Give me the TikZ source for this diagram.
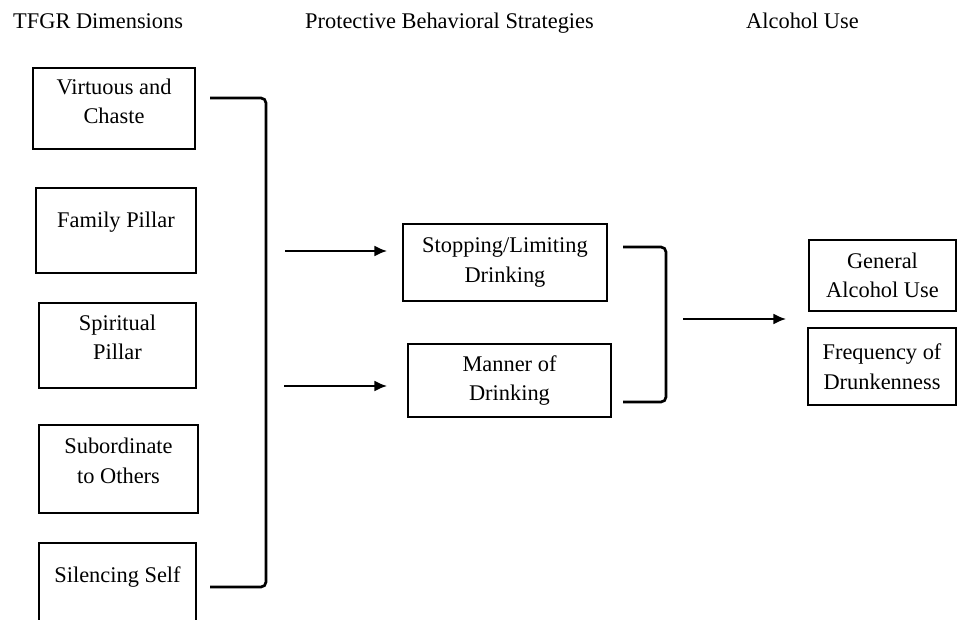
\documentclass[tikz,border=0pt]{standalone}
\usepackage{fontspec}
\setmainfont{Liberation Serif}
\usetikzlibrary{arrows.meta}
\tikzset{
  factor/.style={draw,line width=1.2pt,align=center,inner sep=0pt,
    font=\fontsize{22.4}{29.5}\selectfont},
  heading/.style={anchor=base west,inner sep=0pt,
    font=\fontsize{22.4}{29.5}\selectfont},
  bracket/.style={draw,line width=2.7pt,rounded corners=5pt},
  link/.style={draw,line width=2.7pt,-{Latex[length=13pt,width=11pt]}}
}

\begin{document}
\begin{tikzpicture}[x=1pt,y=-1pt]
  \useasboundingbox (0,0) rectangle (959,620);
  \clip (0,0) rectangle (959,620);
  % column headings
  \node[heading] (hd1) at (13,29) {TFGR Dimensions};
  \node[heading] (hd2) at (305,29) {Protective Behavioral Strategies};
  \node[heading] (hd3) at (746,29) {Alcohol Use};
  % TFGR dimensions
  \node[factor,minimum width=162pt,minimum height=81pt,text depth=15pt] (vc) at (114,108.5) {Virtuous and\\Chaste};
  \node[factor,minimum width=160pt,minimum height=85pt,text depth=22pt] (fp) at (116,230.5) {Family Pillar};
  \node[factor,minimum width=157pt,minimum height=85pt,text depth=17pt] (sp) at (117.5,345.5) {Spiritual\\Pillar};
  \node[factor,minimum width=159pt,minimum height=88pt,text depth=17pt] (so) at (118.5,469) {Subordinate\\to Others};
  \node[factor,minimum width=157pt,minimum height=85pt,text depth=22pt] (ss) at (117.5,585.5) {Silencing Self};
  % strategies
  \node[factor,minimum width=204pt,minimum height=77pt] (sl) at (505,262.5) {Stopping/Limiting\\Drinking};
  \node[factor,minimum width=203pt,minimum height=73pt] (md) at (509.5,380.5) {Manner of\\Drinking};
  % outcomes
  \node[factor,minimum width=147pt,minimum height=71pt] (ga) at (882.5,275.5) {General\\Alcohol Use};
  \node[factor,minimum width=148pt,minimum height=77pt] (fd) at (882,366.5) {Frequency of\\Drunkenness};
  % brackets
  \coordinate (br1s) at (210,98);
  \coordinate (br1e) at (210,587);
  \draw[bracket] (br1s) -- ++(56,0) |- (br1e);
  \coordinate (br2s) at (623,247);
  \coordinate (br2e) at (623,402);
  \draw[bracket] (br2s) -- ++(43,0) |- (br2e);
  % arrows
  \coordinate (ar1) at (285,251);
  \coordinate (ar2) at (284,386);
  \coordinate (ar3) at (683,319);
  \draw[link,shorten >=15pt] (ar1) -- (ar1 -| sl.west);
  \draw[link,shorten >=20pt] (ar2) -- (ar2 -| md.west);
  \draw[link,shorten >=22pt] (ar3) -- (ar3 -| ga.west);
\end{tikzpicture}
\end{document}
